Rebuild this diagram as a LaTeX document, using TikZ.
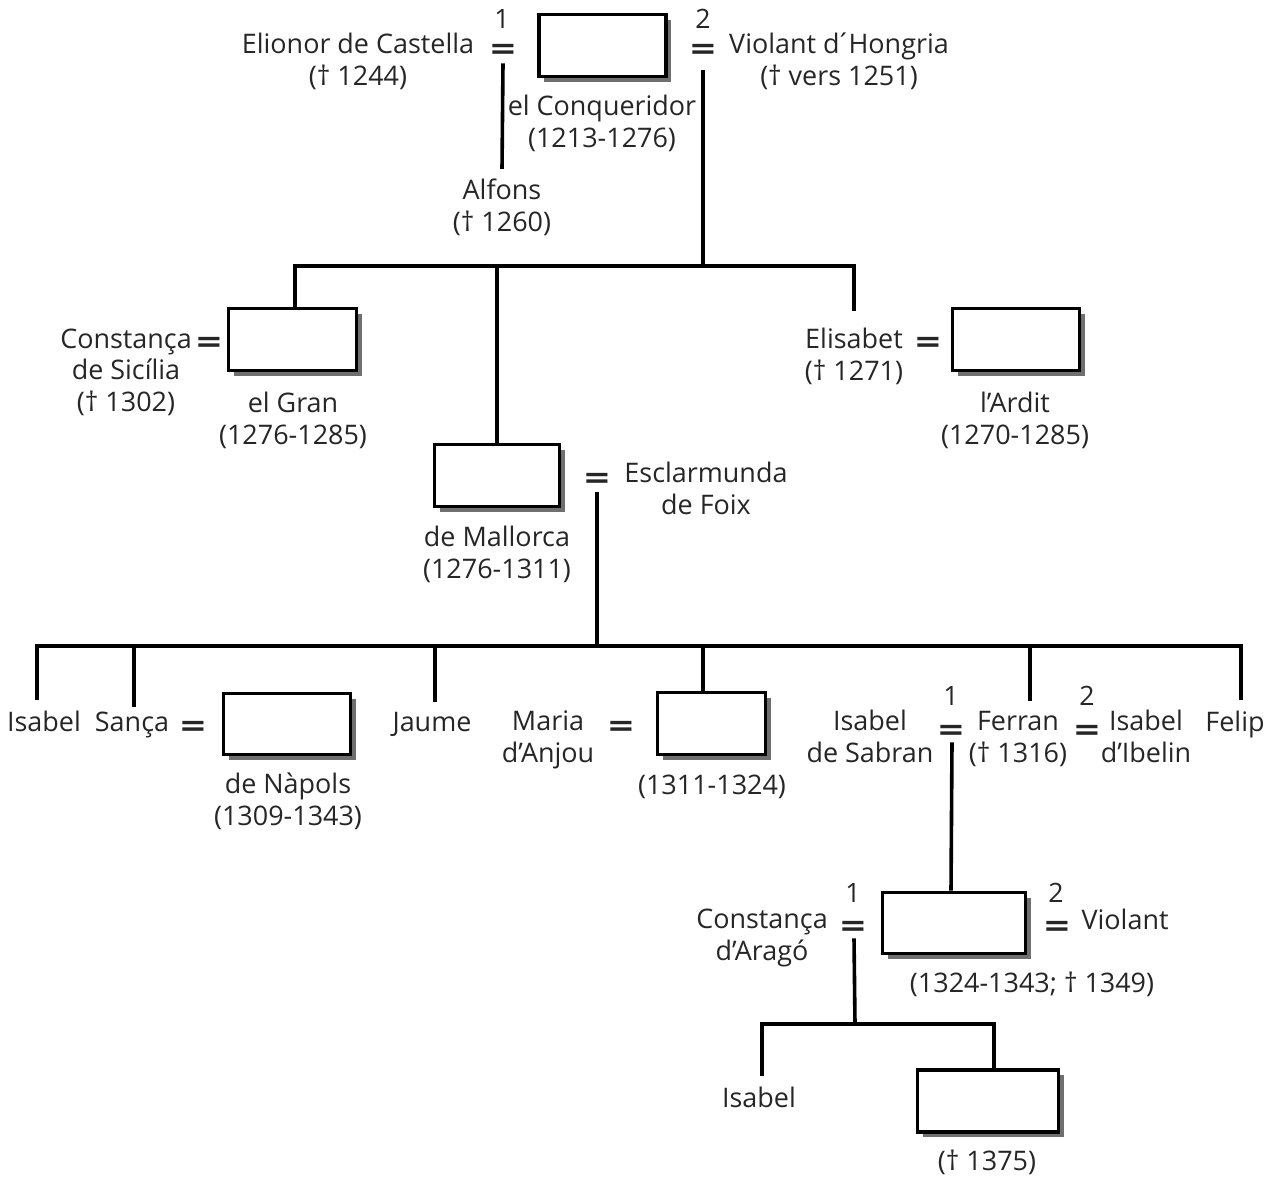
\documentclass[tikz,border=0pt]{standalone}
\usepackage{fontspec}
\setmainfont{Open Sans}
\newfontfamily\eqfont{DejaVu Sans}
\usetikzlibrary{shadows}
\begin{document}
\begin{tikzpicture}[x=0.75pt,y=-0.75pt,
  lbl/.style={font=\fontsize{20.2}{23.4}\selectfont, inner xsep=1pt, inner ysep=7.5pt, align=center, anchor=base, text=black!85},
  eqs/.style={font=\eqfont\bfseries\fontsize{22}{24}\selectfont, inner sep=0pt, anchor=base, text=black!85},
  num/.style={font=\fontsize{20}{23.4}\selectfont, inner sep=0pt, anchor=base, text=black!85},
  kbox/.style 2 args={draw, line width=2.9pt, fill=white, minimum width=#1, minimum height=#2, inner sep=0pt,
    drop shadow={shadow xshift=4pt, shadow yshift=-4pt, fill=black!70, opacity=0.8}},
  link/.style={line width=2.7pt}
]
\newcommand{\eqsign}{\scalebox{1.15}[1]{=}}
\useasboundingbox (0,0) rectangle (1281,1178);
\fill[white] (0,0) rectangle (1281,1178);

% ---------- generation 1
\node[lbl] (elionor) at (358,85) {Elionor de Castella\\(† 1244)};
\node[num] (n1a) at (502,28) {1};
\node[eqs] (eq1) at (503,58) {\eqsign};
\node[kbox={95.25pt}{46.5pt}] (jaume1) at (602.5,45.5) {};
\node[num] (n2a) at (703,28) {2};
\node[eqs] (eq2) at (703,58) {\eqsign};
\node[lbl] (violant1) at (839,85) {Violant d\kern-3pt´\kern-2pt Hongria\\(† vers 1251)};
\node[lbl] (conq) at (602,147) {el Conqueridor\\(1213-1276)};
\node[lbl] (alfons) at (502,231) {Alfons\\(† 1260)};

% ---------- generation 2
\node[lbl] (constanca) at (126,411) {Constança\\de Sicília\\(† 1302)};
\node[eqs] (eqc) at (209,351) {\eqsign};
\node[kbox={96pt}{46.5pt}] (pere) at (292.5,339.5) {};
\node[lbl] (peretxt) at (293,444) {el Gran\\(1276-1285)};
\node[lbl] (elisabet) at (854,380) {Elisabet\\(† 1271)};
\node[eqs] (eqe) at (928,351) {\eqsign};
\node[kbox={95.25pt}{46.5pt}] (ardit) at (1016,339.5) {};
\node[lbl] (ardtxt) at (1015,444) {l’Ardit\\(1270-1285)};
\node[kbox={93.75pt}{46.5pt}] (jmall) at (497,475.5) {};
\node[eqs] (eqm) at (597,487) {\eqsign};
\node[lbl] (escl) at (706,514) {Esclarmunda\\de Foix};
\node[lbl] (malltxt) at (497,578) {de Mallorca\\(1276-1311)};

% ---------- generation 3
\node[lbl] (isa1) at (44,731) {Isabel};
\node[lbl] (sanca) at (132,731) {Sança};
\node[eqs] (eqs1) at (193,735) {\eqsign};
\node[kbox={95.25pt}{45.75pt}] (robert) at (287,724) {};
\node[lbl] (napols) at (288,825) {de Nàpols\\(1309-1343)};
\node[lbl] (jaumeb) at (432,731) {Jaume};
\node[lbl] (maria) at (548,762) {Maria\\d’Anjou};
\node[eqs] (eqma) at (621,735) {\eqsign};
\node[kbox={81pt}{46.5pt}] (sanc) at (711.5,723.5) {};
\node[lbl] (sanctxt) at (712,794) {(1311-1324)};
\node[lbl] (isasab) at (870,762) {Isabel\\de Sabran};
\node[num] (n1b) at (951,705) {1};
\node[eqs] (eqf1) at (951,739) {\eqsign};
\node[lbl] (ferran) at (1018,762) {Ferran\\(† 1316)};
\node[num] (n2b) at (1087,705) {2};
\node[eqs] (eqf2) at (1087,739) {\eqsign};
\node[lbl] (isaib) at (1146,762) {Isabel\\d’Ibelin};
\node[lbl] (felip) at (1235,731) {Felip};

% ---------- generation 4
\node[lbl] (consta) at (762,960) {Constança\\d’Aragó};
\node[num] (n1c) at (853,902) {1};
\node[eqs] (eqca) at (853,935) {\eqsign};
\node[kbox={107.25pt}{45.75pt}] (jiii) at (954,923) {};
\node[num] (n2c) at (1056,902) {2};
\node[eqs] (eqv) at (1057,935) {\eqsign};
\node[lbl, anchor=base west] (violant2) at (1080,929) {Violant};
\node[lbl] (jiiitxt) at (1032,992) {(1324-1343; † 1349)};
\node[lbl] (isa2) at (759,1107) {Isabel};
\node[kbox={105.75pt}{46.5pt}] (jaumeiv) at (988,1101) {};
\node[lbl] (lasttxt) at (987,1170) {(† 1375)};

% ---------- junctions
\coordinate (J1) at (703,266);
\coordinate (J2) at (597,646);
\coordinate (J3) at (855,1024);

% ---------- connectors
\draw[link] ([shift={(0,5)}]eq1.south) -- (alfons.north);
\draw[link] ([shift={(0,12)}]eq2.south) -- (J1);
\draw[link] ([shift={(2.5,0)}]pere.north) -- ([shift={(2.5,0)}]pere.north |- J1)
  -- (elisabet.north |- J1) -- ([shift={(0,-7)}]elisabet.north);
\draw[link] (jmall.north |- J1) -- (jmall.north);

\draw[link] ([shift={(0,5)}]eqm.south) -- (J2);
\draw[link] ([shift={(-7,0)}]isa1.north) -- ([shift={(-7,0)}]isa1.north |- J2)
  -- ([shift={(6,0)}]felip.north |- J2) -- ([shift={(6,0)}]felip.north);
\draw[link] ([shift={(2,0)}]sanca.north |- J2) -- ([shift={(2,6)}]sanca.north);
\draw[link] ([shift={(3,0)}]jaumeb.north |- J2) -- ([shift={(3,0)}]jaumeb.north);
\draw[link] ([shift={(-8.5,0)}]sanc.north |- J2) -- ([shift={(-8.5,0)}]sanc.north);
\draw[link] ([shift={(12,0)}]ferran.north |- J2) -- ([shift={(12,0)}]ferran.north);

\draw[link] ([shift={(1,3)}]eqf1.south) -- (jiii.north -| eqf1.south);
\draw[link] ([shift={(1,3)}]eqca.south) -- (J3);
\draw[link] ([shift={(3,0)}]isa2.north) -- ([shift={(3,0)}]isa2.north |- J3)
  -- ([shift={(6,0)}]jaumeiv.north |- J3) -- ([shift={(6,0)}]jaumeiv.north);
\end{tikzpicture}
\end{document}
